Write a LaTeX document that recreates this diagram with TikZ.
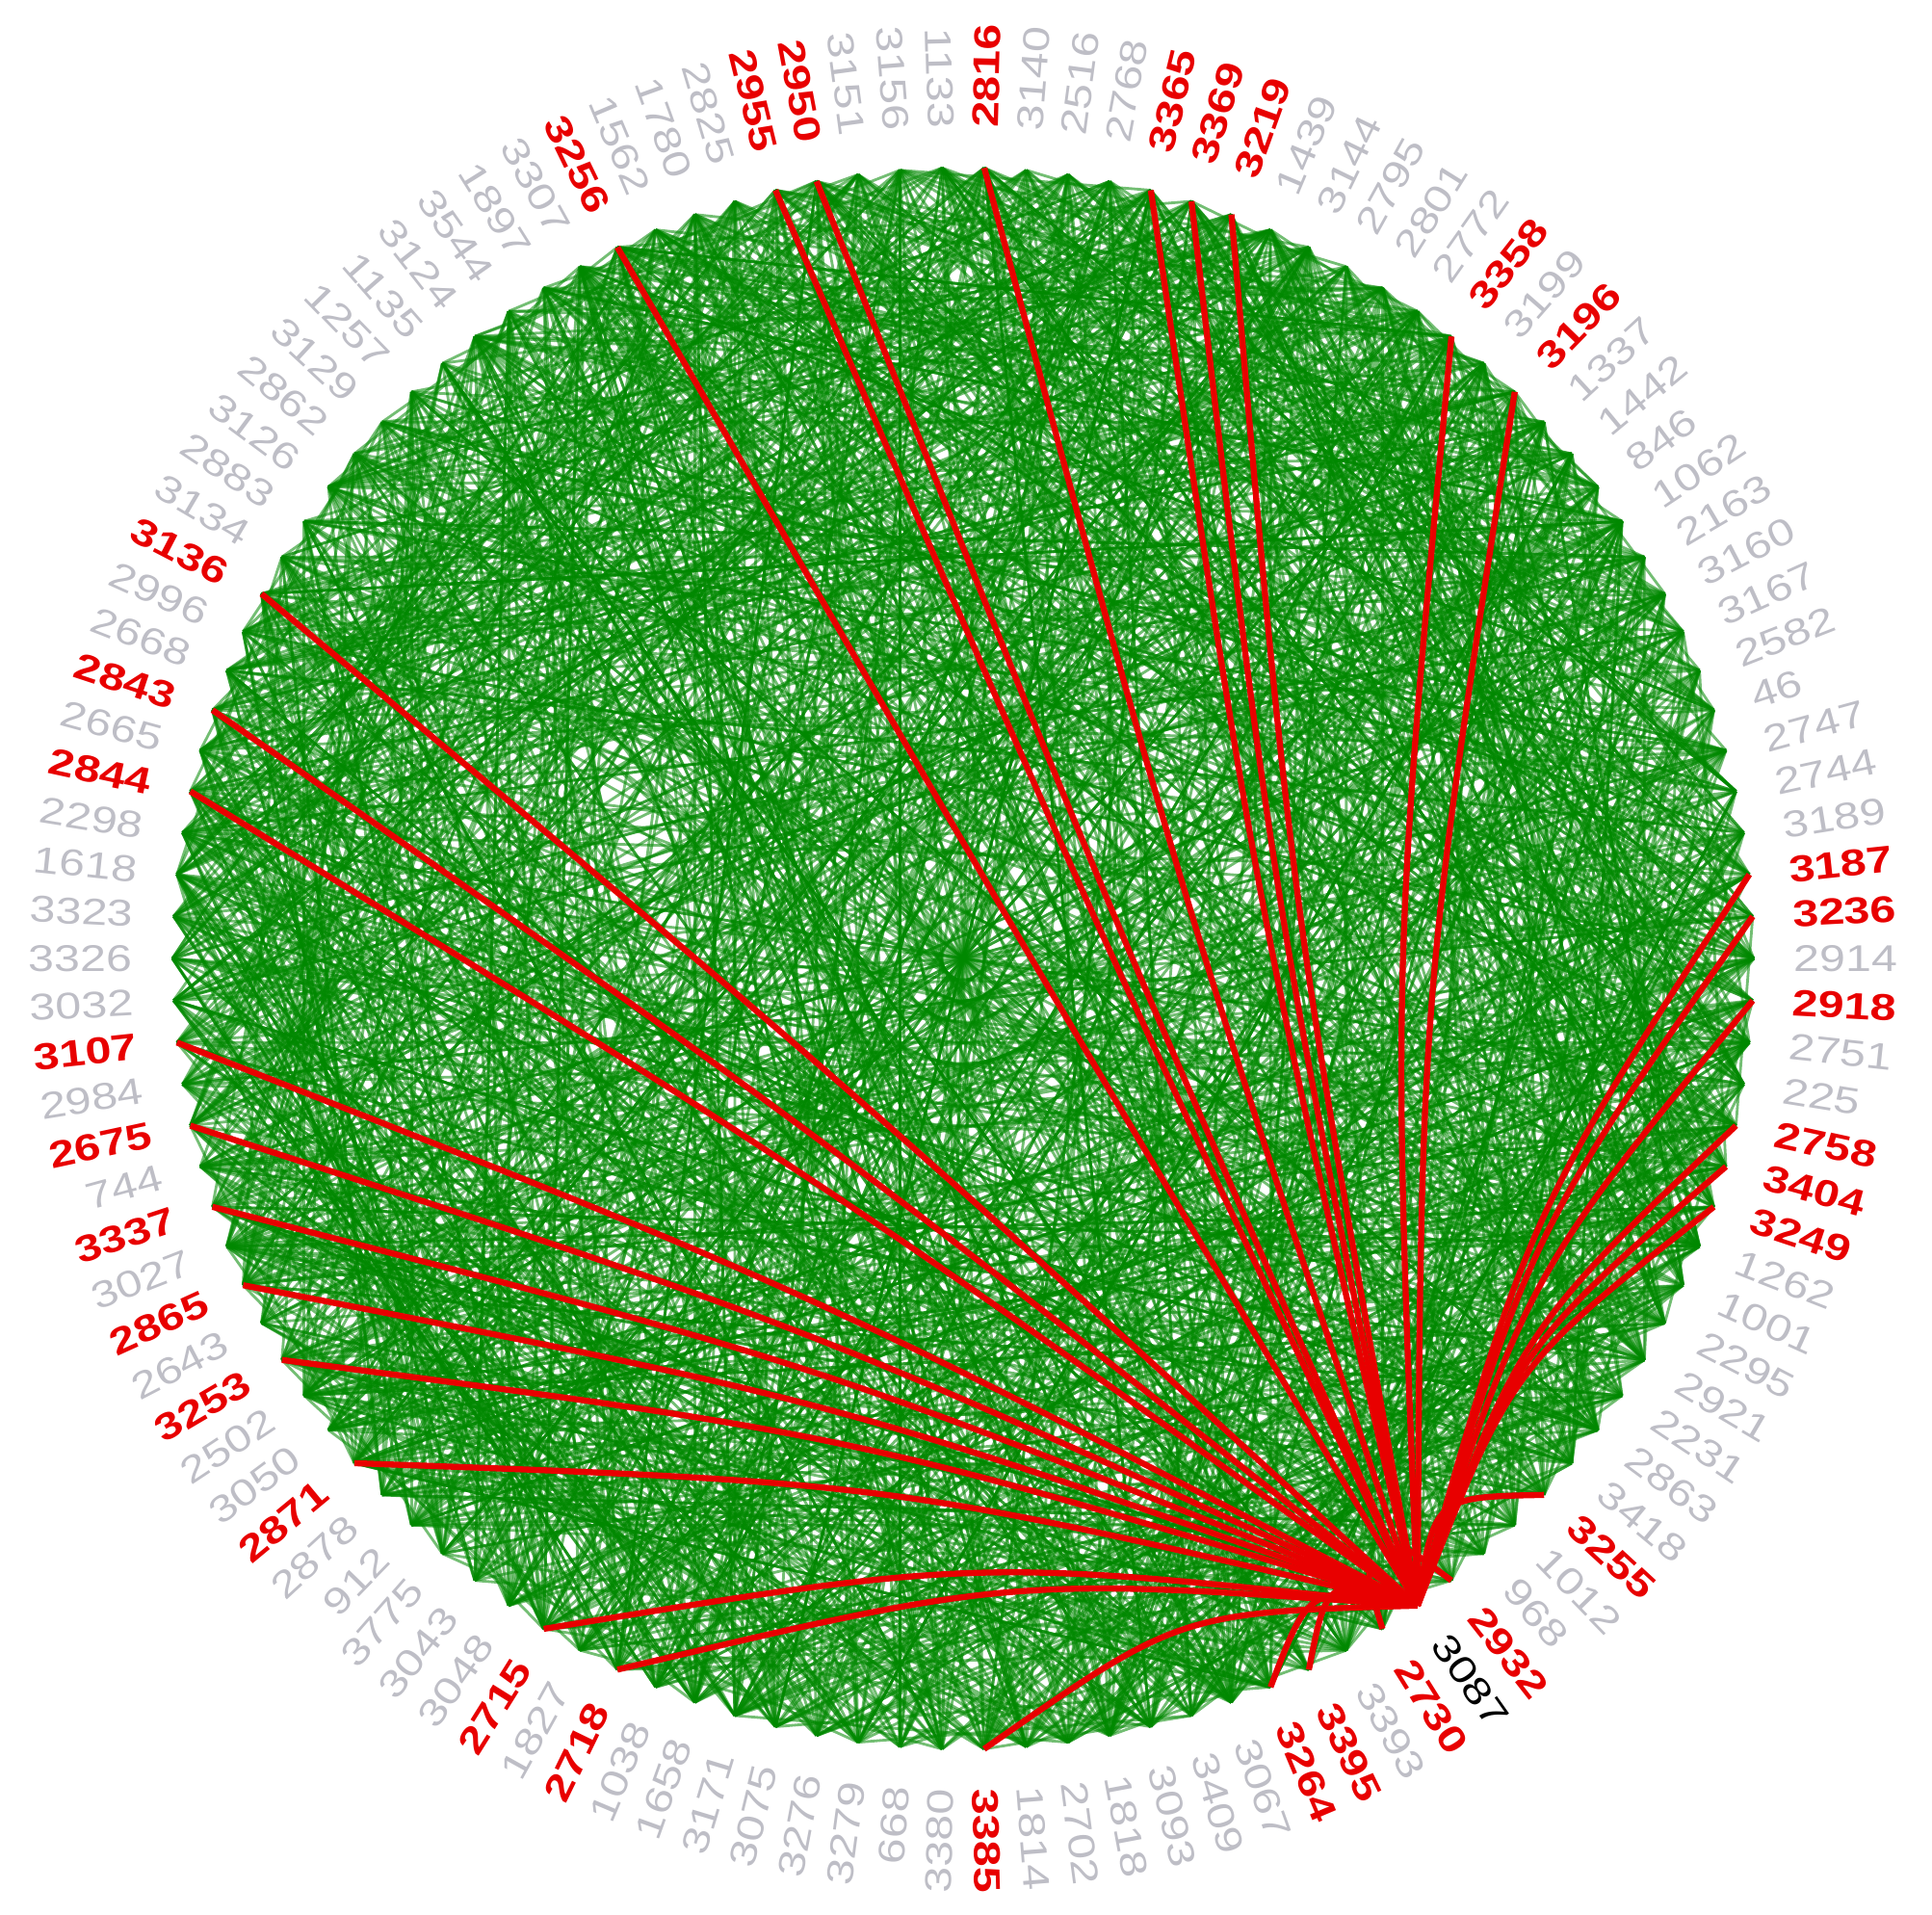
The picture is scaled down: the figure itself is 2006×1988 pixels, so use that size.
\documentclass[tikz,border=0pt]{standalone}
\usepackage{fontspec}
\setmainfont{Liberation Sans}
\newfontfamily\labfont[FakeStretch=1.25]{Liberation Sans}
\usetikzlibrary{calc}

\definecolor{linkgreen}{RGB}{0,136,0}
\definecolor{hitred}{RGB}{232,0,0}
\definecolor{idgray}{RGB}{190,190,198}
\newcommand\idfont{\labfont\fontsize{11}{12}\selectfont}

\tikzset{
  idg/.style={text=idgray, font=\idfont},
  idr/.style={text=hitred, font=\idfont\bfseries},
  idk/.style={text=black, font=\idfont},
  link/.style={draw=linkgreen, draw opacity=.55, line width=.8pt},
  hit/.style={draw=hitred, line width=1.8pt},
}

% ids clockwise from the top
\newcommand\idlist{2816/idr,3140/idg,2516/idg,2768/idg,3365/idr,3369/idr,3219/idr,1439/idg,3144/idg,2795/idg,
2801/idg,2772/idg,3358/idr,3199/idg,3196/idr,1337/idg,1442/idg,846/idg,1062/idg,2163/idg,
3160/idg,3167/idg,2582/idg,46/idg,2747/idg,2744/idg,3189/idg,3187/idr,3236/idr,2914/idg,
2918/idr,2751/idg,225/idg,2758/idr,3404/idr,3249/idr,1262/idg,1001/idg,2295/idg,2921/idg,
2231/idg,2863/idg,3418/idg,3255/idr,1012/idg,968/idg,2932/idr,3087/idk,2730/idr,3393/idg,
3395/idr,3264/idr,3067/idg,3409/idg,3093/idg,1818/idg,2702/idg,1814/idg,3385/idr,3380/idg,
668/idg,3279/idg,3276/idg,3075/idg,3171/idg,1658/idg,1038/idg,2718/idr,1827/idg,2715/idr,
3048/idg,3043/idg,3775/idg,912/idg,2878/idg,2871/idr,3050/idg,2502/idg,3253/idr,2643/idg,
2865/idr,3027/idg,3337/idr,744/idg,2675/idr,2984/idg,3107/idr,3032/idg,3326/idg,3323/idg,
1618/idg,2298/idg,2844/idr,2665/idg,2843/idr,2668/idg,2996/idg,3136/idr,3134/idg,2883/idg,
3126/idg,2862/idg,3129/idg,1257/idg,1135/idg,3124/idg,3544/idg,1897/idg,3307/idg,3256/idr,
1562/idg,1780/idg,2825/idg,2955/idr,2950/idr,3151/idg,3156/idg,1133/idg}

\begin{document}
\begin{tikzpicture}[x=.01cm, y=.01cm]
\useasboundingbox (0,0) rectangle (2006,1988);
\coordinate (ctr) at (1000,993);
%
\foreach \id/\kind [count=\i] in \idlist {
  \pgfmathsetmacro\ang{88.47-3.0508*(\i-1)}
  \coordinate (n\i) at ($(ctr)+(\ang:821)$);
  \ifdim\ang pt>-90pt
    \node[\kind, inner sep=0, rotate=\ang, anchor=west] (l\i) at ($(ctr)+(\ang:862)$) {\id};
  \else
    \pgfmathsetmacro\rot{\ang+180}
    \node[\kind, inner sep=0, rotate=\rot, anchor=east] (l\i) at ($(ctr)+(\ang:862)$) {\id};
  \fi
}
%
\pgfmathsetseed{3087}
\foreach \e in {1,...,1450} {
  \pgfmathrandominteger\a{1}{118}
  \pgfmathrandominteger\s{21}{59}
  \pgfmathtruncatemacro\b{mod(\a+\s-1,118)+1}
  \draw[link] (n\a) -- (n\b);
}
\foreach \e in {1,...,90} {
  \pgfmathrandominteger\a{1}{118}
  \pgfmathrandominteger\s{5}{20}
  \pgfmathtruncatemacro\b{mod(\a+\s-1,118)+1}
  \draw[link] (n\a) -- (n\b);
}
%
\foreach \t in {1,5,6,7,13,15,28,29,31,34,35,36,44,47,49,51,52,59,68,70,76,79,81,83,85,87,93,95,98,110,114,115} {
  \coordinate (m) at ($(n48)!.5!(n\t)$);
  \draw[hit] (n48) .. controls ($(m)!.09!(ctr)$) .. (n\t);
}
\end{tikzpicture}
\end{document}
